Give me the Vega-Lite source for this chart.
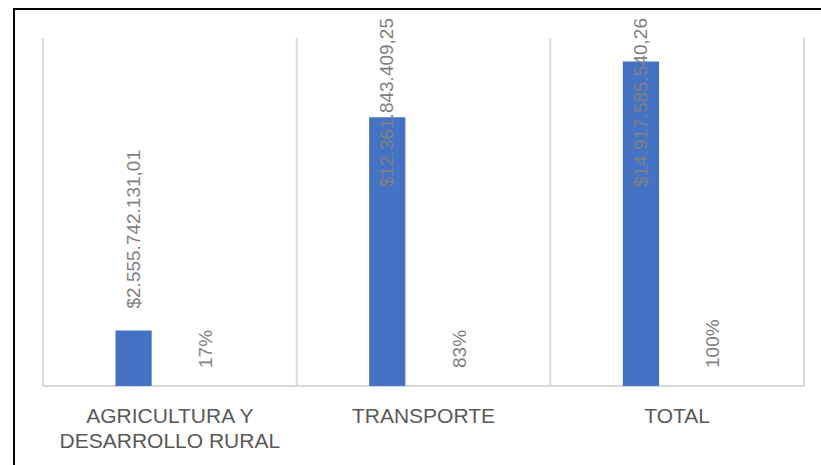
{
  "$schema": "https://vega.github.io/schema/vega-lite/v6.json",
  "width": 821,
  "height": 471,
  "autosize": {"type": "none"},
  "padding": {"left": 14, "top": 9, "right": -14, "bottom": -15},
  "background": "white",
  "config": {
    "font": "Liberation Sans",
    "view": {"stroke": "black", "strokeWidth": 2},
    "locale": {"number": {"decimal": ",", "thousands": ".", "grouping": [3], "currency": ["$", ""]}}
  },
  "data": {
    "values": [
      {"categoria": "AGRICULTURA Y\nDESARROLLO RURAL", "serie": "Valor", "valor": 2555742131.01},
      {"categoria": "AGRICULTURA Y\nDESARROLLO RURAL", "serie": "Porcentaje", "valor": 0.1713},
      {"categoria": "TRANSPORTE", "serie": "Valor", "valor": 12361843409.25},
      {"categoria": "TRANSPORTE", "serie": "Porcentaje", "valor": 0.8287},
      {"categoria": "TOTAL", "serie": "Valor", "valor": 14917585540.26},
      {"categoria": "TOTAL", "serie": "Porcentaje", "valor": 1}
    ]
  },
  "encoding": {
    "x": {
      "field": "categoria",
      "type": "nominal",
      "sort": null,
      "scale": {"domain": ["AGRICULTURA Y\nDESARROLLO RURAL", "TRANSPORTE", "TOTAL"], "range": [29, 790], "paddingInner": 0, "paddingOuter": 0},
      "axis": null
    }
  },
  "layer": [
    {
      "transform": [{"filter": "datum.serie == 'Valor'"}],
      "mark": {"type": "rule", "color": "#d9d9d9", "strokeWidth": 2},
      "encoding": {
        "x": {"field": "categoria", "type": "nominal", "sort": null, "bandPosition": 0, "axis": null},
        "y": {"datum": 0, "type": "quantitative", "scale": {"domain": [0, 16000000000], "range": [377, 29]}, "axis": null},
        "y2": {"datum": 16000000000}
      }
    },
    {
      "mark": {"type": "rule", "color": "#d9d9d9", "strokeWidth": 2},
      "encoding": {
        "x": {"datum": "TOTAL", "type": "nominal", "bandPosition": 1, "axis": null},
        "y": {"datum": 0, "type": "quantitative", "scale": {"domain": [0, 16000000000], "range": [377, 29]}, "axis": null},
        "y2": {"datum": 16000000000}
      }
    },
    {
      "transform": [{"filter": "datum.serie == 'Valor'"}],
      "mark": {"type": "rule", "color": "#d9d9d9", "strokeWidth": 2},
      "encoding": {
        "x": {"field": "categoria", "type": "nominal", "sort": null, "bandPosition": 0, "axis": null},
        "x2": {"field": "categoria", "bandPosition": 1},
        "y": {"datum": 0, "type": "quantitative", "scale": {"domain": [0, 16000000000], "range": [377, 29]}, "axis": null}
      }
    },
    {
      "transform": [{"filter": "datum.serie == 'Valor'"}],
      "mark": {"type": "bar", "color": "#4472C4"},
      "encoding": {
        "xOffset": {"field": "serie", "type": "nominal", "scale": {"domain": ["Valor", "Porcentaje"], "paddingInner": 0.5, "paddingOuter": 1.118}},
        "y": {"field": "valor", "type": "quantitative", "scale": {"domain": [0, 16000000000], "range": [377, 29]}, "axis": null}
      }
    },
    {
      "transform": [{"filter": "datum.serie == 'Valor'"}],
      "mark": {"type": "text", "align": "center", "baseline": "top", "dy": 20, "fontSize": 21, "lineBreak": "\n", "lineHeight": 25, "color": "#595959", "font": "Liberation Sans"},
      "encoding": {
        "y": {"datum": 0, "type": "quantitative", "scale": {"domain": [0, 16000000000], "range": [377, 29]}, "axis": null},
        "text": {"field": "categoria", "type": "nominal"}
      }
    },
    {
      "transform": [{"filter": "datum.serie == 'Porcentaje'"}],
      "mark": {"type": "text", "angle": 270, "align": "left", "baseline": "middle", "dx": 18, "fontSize": 19, "color": "#7f7f7f", "font": "Liberation Sans"},
      "encoding": {
        "xOffset": {"field": "serie", "type": "nominal", "scale": {"domain": ["Valor", "Porcentaje"], "paddingInner": 0.5, "paddingOuter": 1.118}},
        "y": {"field": "valor", "type": "quantitative", "scale": {"domain": [0, 16000000000], "range": [377, 29]}, "axis": null},
        "text": {"field": "valor", "type": "quantitative", "format": ".0%"}
      }
    },
    {
      "transform": [{"filter": "datum.serie == 'Valor'"}],
      "mark": {"type": "text", "angle": 270, "align": "right", "baseline": "middle", "fontSize": 19, "color": "#7f7f7f", "font": "Liberation Sans"},
      "encoding": {
        "xOffset": {"field": "serie", "type": "nominal", "scale": {"domain": ["Valor", "Porcentaje"], "paddingInner": 0.5, "paddingOuter": 1.118}},
        "y": {"field": "valor", "type": "quantitative", "scale": {"domain": [0, 8625000000], "range": [196.6, 9], "clamp": true}, "axis": null},
        "text": {"field": "valor", "type": "quantitative", "format": "$,.2f"}
      }
    }
  ],
  "resolve": {"scale": {"y": "independent"}}
}
